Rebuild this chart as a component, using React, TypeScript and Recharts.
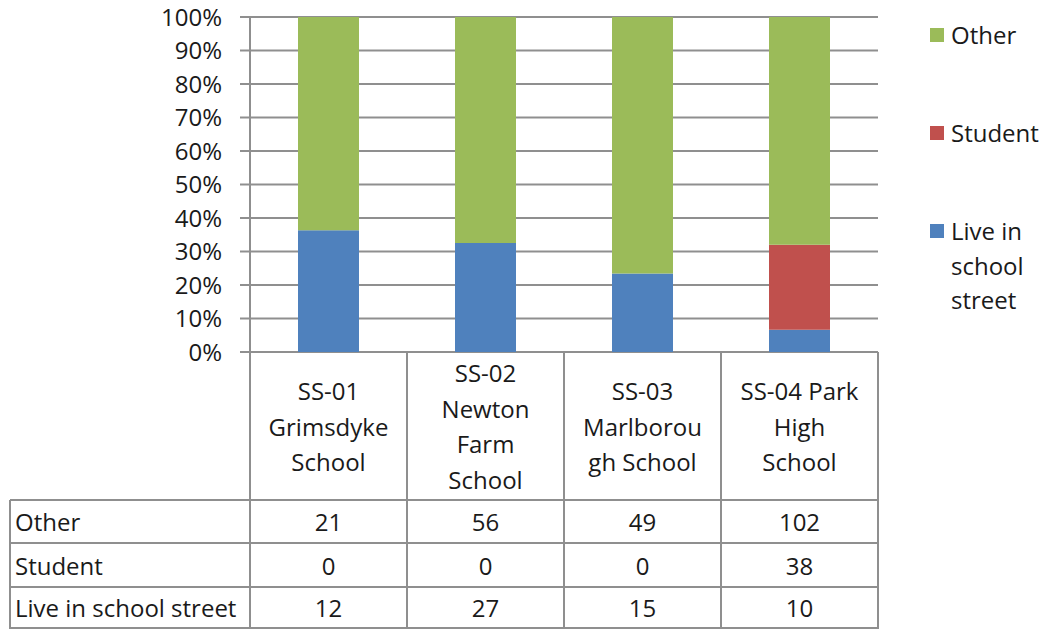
import React from "react";
import { BarChart, Bar, XAxis, YAxis, CartesianGrid } from "recharts";

const categories = [
  "SS-01 Grimsdyke School",
  "SS-02 Newton Farm School",
  "SS-03 Marlborough School",
  "SS-04 Park High School",
];
const categoryLines = [
  ["SS-01", "Grimsdyke", "School"],
  ["SS-02", "Newton", "Farm", "School"],
  ["SS-03", "Marlborou", "gh School"],
  ["SS-04 Park", "High", "School"],
];
const otherValues = [21, 56, 49, 102];
const studentValues = [0, 0, 0, 38];
const liveValues = [12, 27, 15, 10];
const yTicks = [0, 0.1, 0.2, 0.3, 0.4, 0.5, 0.6, 0.7, 0.8, 0.9, 1];

const seriesNames = { other: "Other", student: "Student", live: "Live in school street" };
const legendItems = [
  { key: "other", lines: ["Other"], color: "#9BBB59" },
  { key: "student", lines: ["Student"], color: "#C0504D" },
  { key: "live", lines: ["Live in", "school", "street"], color: "#4F81BD" },
];
const tableRows = [
  { label: "Other", values: otherValues },
  { label: "Student", values: studentValues },
  { label: "Live in school street", values: liveValues },
];

const data = categories.map((name, i) => ({
  name,
  live: liveValues[i],
  student: studentValues[i],
  other: otherValues[i],
}));

const W = 1050;
const H = 629;
const PLOT_LEFT = 250;
const PLOT_RIGHT = 878;
const PLOT_TOP = 17;
const PLOT_BOTTOM = 352;
const COL_W = (PLOT_RIGHT - PLOT_LEFT) / categories.length;
const ROW_Y = [500, 543, 587, 628];
const TABLE_LEFT = 10;
const LINE = "#8F8F8F";
const FONT = "'Open Sans', sans-serif";
const TEXT = "#1a1a1a";
const FS = 24;

const CategoryTick = (props: any) => {
  const { x, payload } = props;
  const i = payload && payload.index != null ? payload.index : props.index;
  const lines = categoryLines[i] || [];
  const left = x - COL_W / 2;
  const right = x + COL_W / 2;
  const headerMid = (PLOT_BOTTOM + ROW_Y[0]) / 2;
  const lh = 35.5;
  const startY = headerMid - ((lines.length - 1) * lh) / 2;
  return (
    <g>
      <line x1={right} x2={right} y1={PLOT_BOTTOM} y2={H} stroke={LINE} strokeWidth={2} />
      {i === 0 && (
        <line x1={left} x2={left} y1={PLOT_BOTTOM} y2={H} stroke={LINE} strokeWidth={2} />
      )}
      {ROW_Y.map((ry) => (
        <line key={ry} x1={left} x2={right} y1={ry} y2={ry} stroke={LINE} strokeWidth={2} />
      ))}
      {lines.map((t, k) => (
        <text
          key={k}
          x={x}
          y={startY + k * lh}
          textAnchor="middle"
          dominantBaseline="central"
          fontFamily={FONT}
          fontSize={FS}
          fill={TEXT}
        >
          {t}
        </text>
      ))}
      {tableRows.map((r, k) => (
        <text
          key={r.label}
          x={x}
          y={(ROW_Y[k] + ROW_Y[k + 1]) / 2}
          textAnchor="middle"
          dominantBaseline="central"
          fontFamily={FONT}
          fontSize={FS}
          fill={TEXT}
        >
          {r.values[i]}
        </text>
      ))}
      {i === 0 && (
        <g>
          <line x1={TABLE_LEFT} x2={TABLE_LEFT} y1={ROW_Y[0]} y2={H} stroke={LINE} strokeWidth={2} />
          {ROW_Y.map((ry) => (
            <line key={ry} x1={TABLE_LEFT} x2={left} y1={ry} y2={ry} stroke={LINE} strokeWidth={2} />
          ))}
          {tableRows.map((r, k) => (
            <text
              key={r.label}
              x={TABLE_LEFT + 5}
              y={(ROW_Y[k] + ROW_Y[k + 1]) / 2}
              textAnchor="start"
              dominantBaseline="central"
              fontFamily={FONT}
              fontSize={FS}
              fill={TEXT}
            >
              {r.label}
            </text>
          ))}
        </g>
      )}
    </g>
  );
};

const LegendBox = () => (
  <div
    style={{
      position: "absolute",
      left: 930,
      top: 18,
      width: 120,
      fontFamily: FONT,
      fontSize: FS,
      color: TEXT,
    }}
  >
    {legendItems.map((it, k) => (
      <div
        key={it.key}
        style={{ position: "absolute", left: 0, top: [0, 98, 196][k], display: "flex", alignItems: "flex-start" }}
      >
        <div style={{ width: 14, height: 14, background: it.color, marginTop: 10, marginRight: 7, flexShrink: 0 }} />
        <div style={{ lineHeight: "34.5px", whiteSpace: "nowrap" }}>
          {it.lines.map((l) => (
            <div key={l}>{l}</div>
          ))}
        </div>
      </div>
    ))}
  </div>
);

export default function App() {
  return (
    <div style={{ position: "absolute", left: 0, top: 0, width: W, height: H, background: "#fff", overflow: "hidden" }}>
      <BarChart
        width={W}
        height={H}
        data={data}
        stackOffset="expand"
        barSize={61}
        margin={{ top: PLOT_TOP, right: W - PLOT_RIGHT, left: 0, bottom: 0 }}
      >
        <CartesianGrid vertical={false} stroke={LINE} strokeWidth={2} />
        <XAxis
          dataKey="name"
          interval={0}
          height={H - PLOT_BOTTOM}
          axisLine={false}
          tickLine={false}
          tick={<CategoryTick />}
        />
        <YAxis
          width={PLOT_LEFT}
          domain={[0, 1]}
          ticks={yTicks}
          interval={0}
          tickFormatter={(v: number) => `${Math.round(v * 100)}%`}
          axisLine={{ stroke: LINE, strokeWidth: 2 }}
          tickLine={{ stroke: LINE, strokeWidth: 2 }}
          tickSize={10}
          tickMargin={18}
          tick={{ fontFamily: FONT, fontSize: FS, fill: TEXT }}
        />
        <Bar dataKey="live" name={seriesNames.live} stackId="a" fill="#4F81BD" isAnimationActive={false} />
        <Bar dataKey="student" name={seriesNames.student} stackId="a" fill="#C0504D" isAnimationActive={false} />
        <Bar dataKey="other" name={seriesNames.other} stackId="a" fill="#9BBB59" isAnimationActive={false} />
      </BarChart>
      <LegendBox />
    </div>
  );
}
